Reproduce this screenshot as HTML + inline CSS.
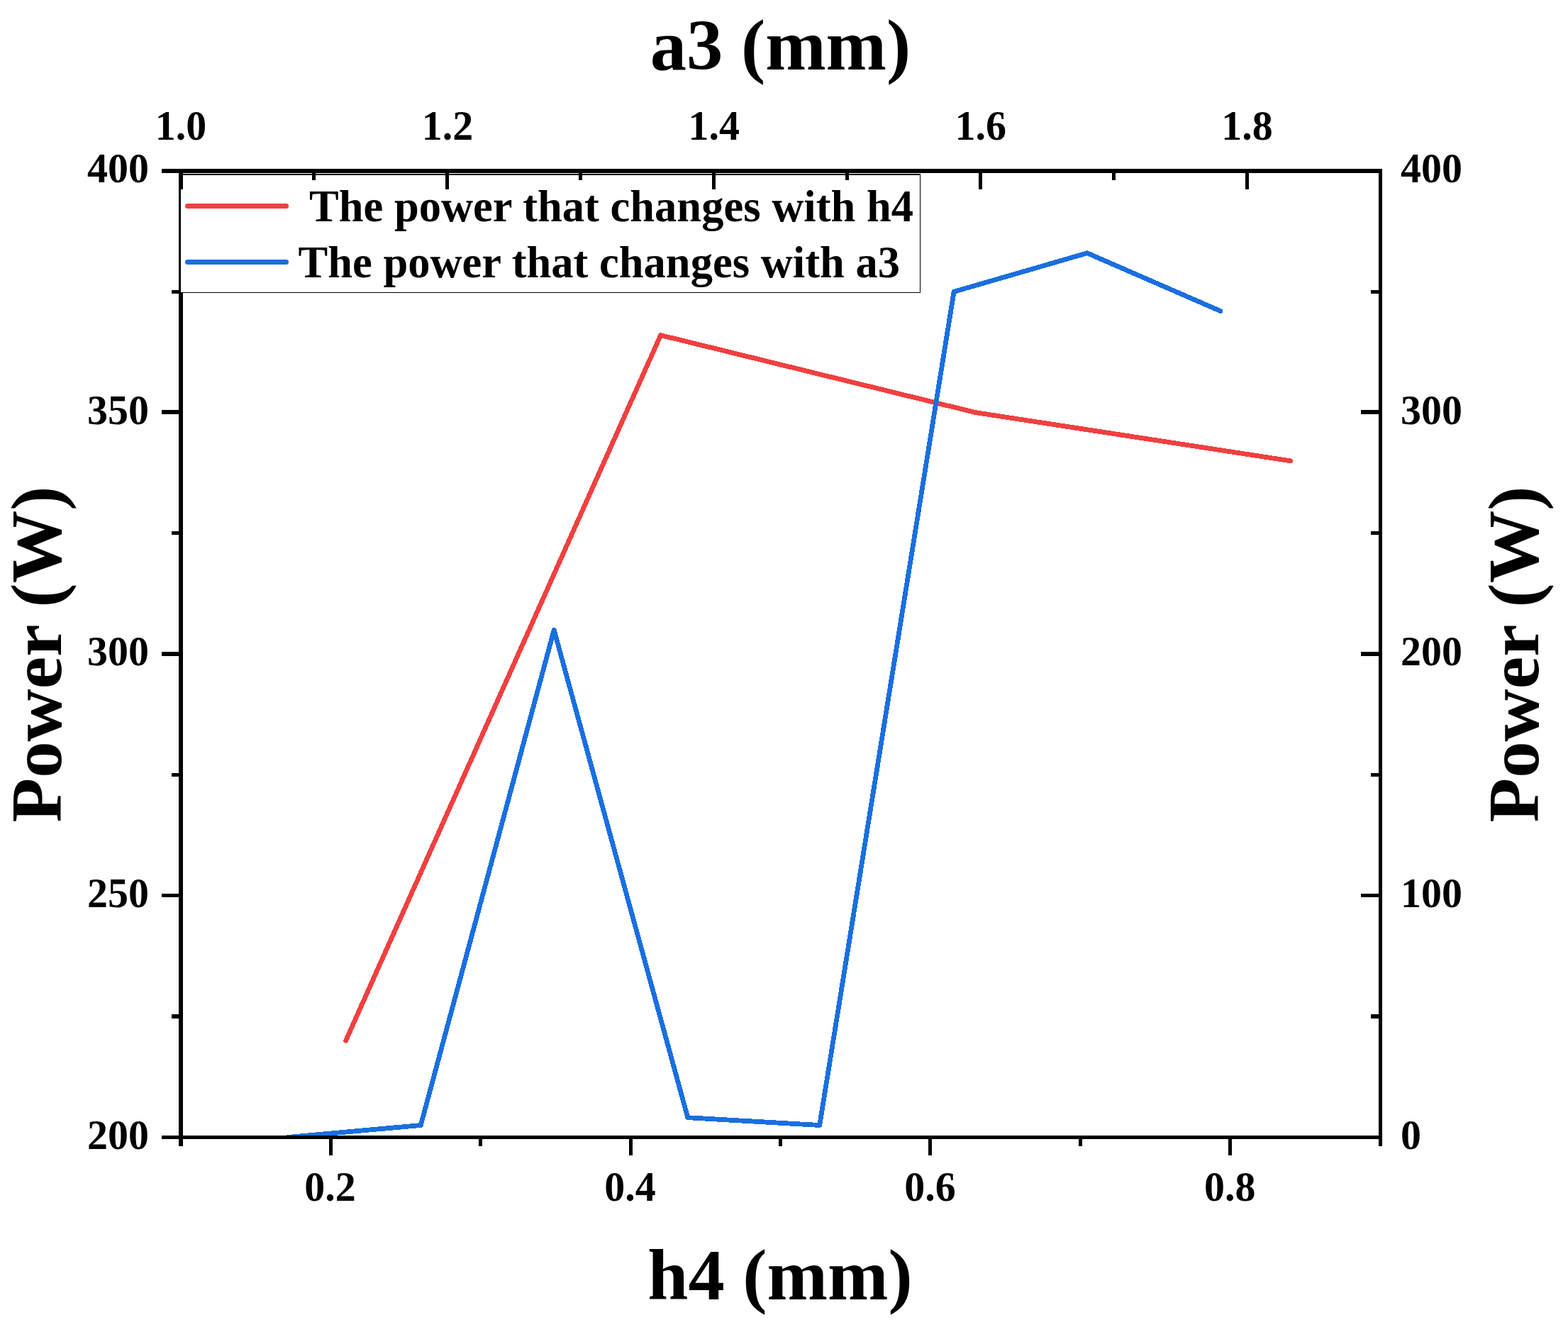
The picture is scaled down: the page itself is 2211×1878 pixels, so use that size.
<!DOCTYPE html>
<html lang="en"><head><meta charset="utf-8"><title>Power versus h4 and a3</title>
<style>
html,body{margin:0;padding:0;background:#fff;}
body{width:2211px;height:1878px;overflow:hidden;}
svg{display:block;}
text{font-family:"Liberation Serif","DejaVu Serif",serif;font-weight:bold;fill:#000;}
.tick{font-size:58px;}
.leg{font-size:62.5px;}
.title{font-size:102.6px;}
.ax{fill:#000;shape-rendering:crispEdges;}
.data{fill:none;stroke-linejoin:round;stroke-linecap:round;shape-rendering:crispEdges;}
</style></head><body>
<svg width="2211" height="1878" viewBox="0 0 2211 1878">
<rect x="0" y="0" width="2211" height="1878" fill="#fff"/>
<defs><clipPath id="plot"><rect x="252" y="238" width="1697" height="1368"/></clipPath></defs>
<g id="series" clip-path="url(#plot)">
<polyline class="data" stroke="#F14040" stroke-width="6.8" points="487.6,1467.2 931.6,472.6 1375.6,581.6 1819.6,649.8"/>
<polyline class="data" stroke="#1A6FDF" stroke-width="6.8" points="405.4,1603.5 593.3,1586.5 781.2,888.2 969.8,1575.7 1155.7,1586.5 1345.1,411.3 1533.0,356.8 1721.0,438.6"/>
</g>
<g id="axes-left-bottom">
<rect class="ax" x="252" y="238" width="6" height="1378"/>
<rect class="ax" x="252" y="1601" width="1697" height="5"/>
<rect class="ax" x="228" y="1601" width="24" height="5"/>
<rect class="ax" x="228" y="1260" width="24" height="5"/>
<rect class="ax" x="228" y="919" width="24" height="6"/>
<rect class="ax" x="228" y="578" width="24" height="6"/>
<rect class="ax" x="228" y="238" width="24" height="6"/>
<rect class="ax" x="242" y="1430" width="10" height="6"/>
<rect class="ax" x="242" y="1090" width="10" height="5"/>
<rect class="ax" x="242" y="749" width="10" height="5"/>
<rect class="ax" x="242" y="409" width="10" height="5"/>
<rect class="ax" x="464" y="1606" width="5" height="23"/>
<rect class="ax" x="887" y="1606" width="5" height="23"/>
<rect class="ax" x="1309" y="1606" width="5" height="23"/>
<rect class="ax" x="1732" y="1606" width="5" height="23"/>
<rect class="ax" x="675" y="1606" width="5" height="10"/>
<rect class="ax" x="1098" y="1606" width="5" height="10"/>
<rect class="ax" x="1521" y="1606" width="5" height="10"/>
</g>
<g id="legend">
<rect class="ax" x="254" y="245" width="1044" height="168"/>
<rect class="lg" x="255" y="247" width="1042" height="165" fill="#fff" shape-rendering="crispEdges"/>
<line x1="264.5" y1="290.5" x2="403.5" y2="290.5" stroke="#F14040" stroke-width="7" stroke-linecap="round"/>
<line x1="264.5" y1="369.5" x2="403.5" y2="369.5" stroke="#1A6FDF" stroke-width="7" stroke-linecap="round"/>
<text class="leg" x="436" y="311.5" textLength="852" lengthAdjust="spacing">The power that changes with h4</text>
<text class="leg" x="420.5" y="390.5" textLength="848.5" lengthAdjust="spacing">The power that changes with a3</text>
</g>
<g id="axes-top-right">
<rect class="ax" x="252" y="238" width="1697" height="6"/>
<rect class="ax" x="1944" y="238" width="5" height="1378"/>
<rect class="ax" x="252" y="244" width="6" height="23"/>
<rect class="ax" x="628" y="244" width="5" height="23"/>
<rect class="ax" x="1004" y="244" width="5" height="23"/>
<rect class="ax" x="1380" y="244" width="5" height="23"/>
<rect class="ax" x="1756" y="244" width="5" height="23"/>
<rect class="ax" x="440" y="244" width="5" height="10"/>
<rect class="ax" x="816" y="244" width="5" height="10"/>
<rect class="ax" x="1192" y="244" width="5" height="10"/>
<rect class="ax" x="1568" y="244" width="5" height="10"/>
<rect class="ax" x="1919" y="1260" width="25" height="5"/>
<rect class="ax" x="1919" y="919" width="25" height="6"/>
<rect class="ax" x="1919" y="578" width="25" height="6"/>
<rect class="ax" x="1933" y="1430" width="11" height="6"/>
<rect class="ax" x="1933" y="1090" width="11" height="5"/>
<rect class="ax" x="1933" y="749" width="11" height="5"/>
<rect class="ax" x="1933" y="409" width="11" height="5"/>
</g>
<g id="tick-labels" class="tick">
<text transform="translate(210,1619.5) scale(1,1.035)" text-anchor="end">200</text>
<text transform="translate(210,1278.9) scale(1,1.035)" text-anchor="end">250</text>
<text transform="translate(210,938.2) scale(1,1.035)" text-anchor="end">300</text>
<text transform="translate(210,597.6) scale(1,1.035)" text-anchor="end">350</text>
<text transform="translate(210,257.0) scale(1,1.035)" text-anchor="end">400</text>
<text transform="translate(1975,1619.5) scale(1,1.035)">0</text>
<text transform="translate(1975,1278.9) scale(1,1.035)">100</text>
<text transform="translate(1975,938.2) scale(1,1.035)">200</text>
<text transform="translate(1975,597.6) scale(1,1.035)">300</text>
<text transform="translate(1975,257.0) scale(1,1.035)">400</text>
<text transform="translate(255.0,197) scale(1,1.035)" text-anchor="middle">1.0</text>
<text transform="translate(630.9,197) scale(1,1.035)" text-anchor="middle">1.2</text>
<text transform="translate(1006.8,197) scale(1,1.035)" text-anchor="middle">1.4</text>
<text transform="translate(1382.7,197) scale(1,1.035)" text-anchor="middle">1.6</text>
<text transform="translate(1758.6,197) scale(1,1.035)" text-anchor="middle">1.8</text>
<text transform="translate(465.6,1693) scale(1,1.035)" text-anchor="middle">0.2</text>
<text transform="translate(888.5,1693) scale(1,1.035)" text-anchor="middle">0.4</text>
<text transform="translate(1311.4,1693) scale(1,1.035)" text-anchor="middle">0.6</text>
<text transform="translate(1734.3,1693) scale(1,1.035)" text-anchor="middle">0.8</text>
</g>
<g id="titles" class="title">
<text x="1100.5" y="97.5" text-anchor="middle">a3 (mm)</text>
<text x="1100" y="1832" text-anchor="middle">h4 (mm)</text>
<text transform="translate(86,922.5) rotate(-90)" text-anchor="middle">Power (W)</text>
<text transform="translate(2168.5,922.5) rotate(-90)" text-anchor="middle">Power (W)</text>
</g>
</svg>
</body></html>
